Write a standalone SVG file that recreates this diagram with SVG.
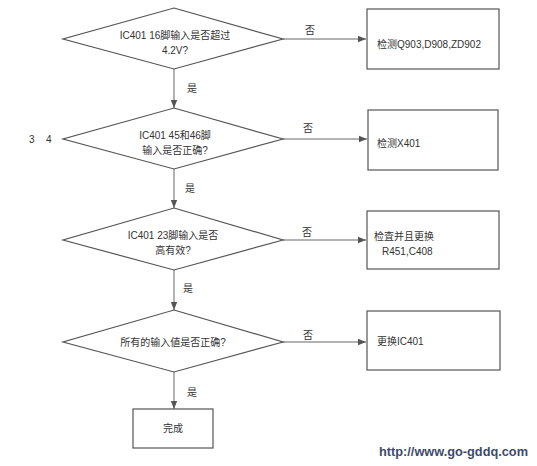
<svg xmlns="http://www.w3.org/2000/svg" width="537" height="466" viewBox="0 0 537 466">
<defs>
<marker id="ah" viewBox="0 0 10 10" refX="10" refY="5" markerWidth="8" markerHeight="8" markerUnits="userSpaceOnUse" orient="auto">
<path d="M0,1 L10,5 L0,9 Z" fill="#555"/>
</marker>
<style>
.shape{fill:#fff;stroke:#555;stroke-width:1.2}
.line{fill:none;stroke:#666;stroke-width:1;marker-end:url(#ah)}
text{font-family:"Liberation Sans","Noto Sans CJK SC",sans-serif;font-size:10px;fill:#333}
.c{text-anchor:middle}
.url{font-family:"Liberation Sans","DejaVu Sans",sans-serif;font-size:13px;font-weight:bold;fill:#3d4b6b}
</style>
</defs>
<rect width="537" height="466" fill="#fff"/>
<g id="connectors">
<line class="line" x1="283" y1="39" x2="366" y2="39"/>
<line class="line" x1="174" y1="69" x2="174" y2="108"/>
<line class="line" x1="283" y1="139" x2="367" y2="139"/>
<line class="line" x1="174" y1="169" x2="174" y2="208"/>
<line class="line" x1="283" y1="240" x2="366" y2="240"/>
<line class="line" x1="174" y1="270" x2="174" y2="310"/>
<line class="line" x1="283" y1="342" x2="366" y2="342"/>
<line class="line" x1="174" y1="372" x2="174" y2="409"/>
<text x="310" y="34" class="c">否</text>
<text x="192" y="92" class="c">是</text>
<text x="308" y="132" class="c">否</text>
<text x="190" y="192" class="c">是</text>
<text x="307" y="236" class="c">否</text>
<text x="188" y="292" class="c">是</text>
<text x="308" y="339" class="c">否</text>
<text x="192" y="396" class="c">是</text>
</g>
<g id="d1">
<polygon class="shape" points="174,8 283,39 174,69 63,39"/>
<text x="175" y="39" class="c">IC401 16脚输入是否超过</text>
<text x="175" y="54" class="c">4.2V?</text>
</g>
<g id="b1">
<rect class="shape" x="367" y="9" width="132" height="60"/>
<text x="377" y="48">检测Q903,D908,ZD902</text>
</g>
<g id="d2">
<polygon class="shape" points="174,108 283,139 174,169 63,139"/>
<text x="175" y="139" class="c">IC401 45和46脚</text>
<text x="175" y="154" class="c">输入是否正确?</text>
<text x="29" y="143">3</text>
<text x="46" y="143">4</text>
</g>
<g id="b2">
<rect class="shape" x="368" y="110" width="130" height="60"/>
<text x="377" y="147">检测X401</text>
</g>
<g id="d3">
<polygon class="shape" points="174,208 283,240 174,270 63,240"/>
<text x="173" y="239" class="c">IC401 23脚输入是否</text>
<text x="173" y="254" class="c">高有效?</text>
</g>
<g id="b3">
<rect class="shape" x="367" y="211" width="132" height="58"/>
<text x="374" y="240">检査并且更换</text>
<text x="382" y="255">R451,C408</text>
</g>
<g id="d4">
<polygon class="shape" points="174,310 283,342 174,372 63,342"/>
<text x="173" y="346" class="c">所有的输入値是否正确?</text>
</g>
<g id="b4">
<rect class="shape" x="367" y="311" width="133" height="59"/>
<text x="377" y="345">更换IC401</text>
</g>
<g id="b5">
<rect class="shape" x="133" y="409" width="80" height="39"/>
<text x="173" y="432" class="c">完成</text>
</g>
<text x="379" y="456" class="url" textLength="149" lengthAdjust="spacingAndGlyphs">http://www.go-gddq.com</text>
</svg>
